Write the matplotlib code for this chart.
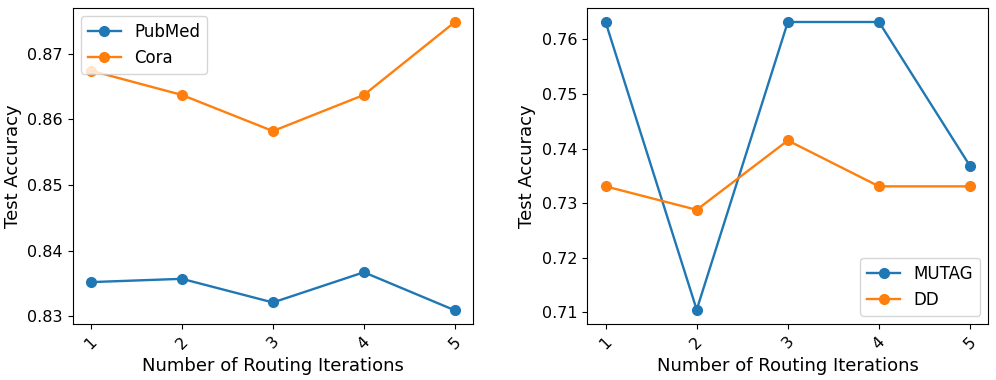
import matplotlib
matplotlib.use("Agg")
import matplotlib.pyplot as plt

iterations = [1, 2, 3, 4, 5]
pubmed = [0.8352, 0.8357, 0.8321, 0.8367, 0.8309]
cora = [0.8674, 0.8637, 0.8582, 0.8637, 0.8748]
mutag = [0.7632, 0.7105, 0.7632, 0.7632, 0.7368]
dd = [0.7331, 0.7288, 0.7415, 0.7331, 0.7331]

plt.rcParams['font.size'] = 13
plt.rcParams['xtick.labelsize'] = 11.5
plt.rcParams['ytick.labelsize'] = 11.5
plt.rcParams['legend.fontsize'] = 12
fig = plt.figure(figsize=(9.96, 3.8), dpi=100)
ax1 = fig.add_axes([0.073, 0.147, 0.402, 0.833])
ax2 = fig.add_axes([0.5897, 0.147, 0.4026, 0.833])

ax1.plot(iterations, pubmed, marker='o', markersize=7, linewidth=1.7, color='#1f77b4', label='PubMed')
ax1.plot(iterations, cora, marker='o', markersize=7, linewidth=1.7, color='#ff7f0e', label='Cora')
ax1.set_ylim(0.8288, 0.8770)
ax1.set_yticks([0.83, 0.84, 0.85, 0.86, 0.87])
ax1.legend(loc='upper left')

ax2.plot(iterations, mutag, marker='o', markersize=7, linewidth=1.7, color='#1f77b4', label='MUTAG')
ax2.plot(iterations, dd, marker='o', markersize=7, linewidth=1.7, color='#ff7f0e', label='DD')
ax2.legend(loc='lower right')

for ax in (ax1, ax2):
    ax.set_xticks(iterations)
    ax.set_xticklabels([str(i) for i in iterations], rotation=45)
    ax.set_xlabel('Number of Routing Iterations')
    ax.set_ylabel('Test Accuracy')

fig.savefig('out.png', dpi=100)
